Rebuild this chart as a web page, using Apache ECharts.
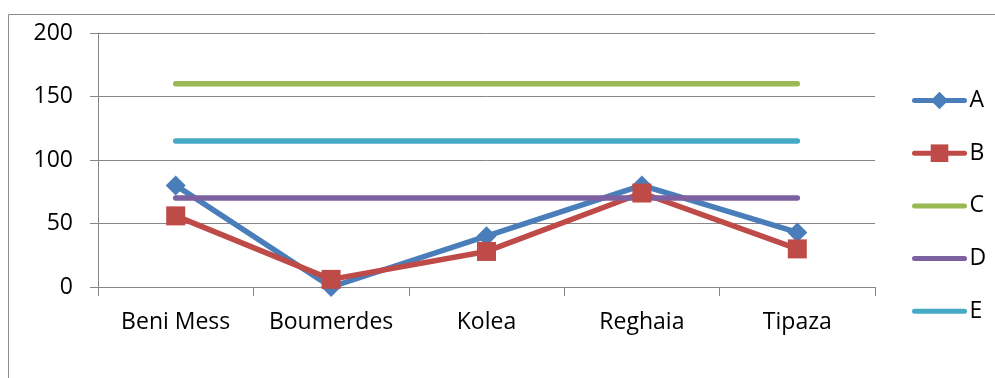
<!DOCTYPE html>
<html>
<head>
<meta charset="utf-8">
<script src="https://cdn.jsdelivr.net/npm/echarts@6/dist/echarts.min.js"></script>
<style>
  html, body { margin: 0; padding: 0; background: #fff; }
  #chart { width: 995px; height: 378px; }
</style>
</head>
<body>
<div id="chart"></div>
<script>
const categories = ['Beni Mess', 'Boumerdes', 'Kolea', 'Reghaia', 'Tipaza'];
const seriesA = [80, 0, 40, 80, 43];
const seriesB = [56, 6, 28, 74, 30];
const seriesC = [160, 160, 160, 160, 160];
const seriesD = [70, 70, 70, 70, 70];
const seriesE = [115, 115, 115, 115, 115];
const yTicks = [0, 50, 100, 150, 200];

const FONT = '"Open Sans"';
const chart = echarts.init(document.getElementById('chart'), null, { renderer: 'canvas' });

function lineSeries(name, data, color, symbol, size) {
  return {
    name, type: 'line', data,
    symbol: symbol || 'none',
    symbolSize: size || 0,
    showSymbol: !!symbol,
    lineStyle: { color, width: 5.5, cap: 'round', join: 'round' },
    itemStyle: { color },
    z: 2
  };
}

// plain-line entries: hide the legend marker, keep the stroke
const plain = (name) => ({ name, itemStyle: { opacity: 0 } });

chart.setOption({
  animation: false,
  graphic: [{
    type: 'rect',
    shape: { x: 8.5, y: 14.5, width: 1000, height: 400 },
    style: { fill: 'none', stroke: '#8c8c8c', lineWidth: 1 },
    silent: true
  }],
  grid: { left: 98, right: 120, top: 33, bottom: 91, containLabel: false },
  legend: {
    orient: 'vertical',
    left: 907, top: 84,
    itemWidth: 50, itemHeight: 22, itemGap: 29.7,
    lineStyle: { width: 5, cap: 'round' },
    textStyle: { fontFamily: FONT, fontSize: 23, lineHeight: 22, color: '#000', padding: 0 },
    data: ['A', 'B', plain('C'), plain('D'), plain('E')]
  },
  xAxis: {
    type: 'category',
    data: categories,
    boundaryGap: true,
    axisLine: { lineStyle: { color: '#868686', width: 1 } },
    axisTick: { show: true, interval: 0, length: 9, lineStyle: { color: '#868686' } },
    axisLabel: { interval: 0, fontFamily: FONT, fontSize: 23, color: '#000', margin: 24 }
  },
  yAxis: {
    type: 'value',
    min: yTicks[0], max: yTicks[yTicks.length - 1], interval: 50,
    axisLine: { show: true, lineStyle: { color: '#868686', width: 1 } },
    axisTick: { show: true, length: 8, lineStyle: { color: '#868686' } },
    axisLabel: { fontFamily: FONT, fontSize: 23, color: '#000', margin: 25 },
    splitLine: { lineStyle: { color: '#868686', width: 1 } }
  },
  series: [
    lineSeries('A', seriesA, '#4a7ebb', 'diamond', 20),
    lineSeries('B', seriesB, '#be4b48', 'rect', 19),
    lineSeries('C', seriesC, '#98b954'),
    lineSeries('D', seriesD, '#7d60a0'),
    lineSeries('E', seriesE, '#46aac5')
  ]
});
</script>
</body>
</html>
